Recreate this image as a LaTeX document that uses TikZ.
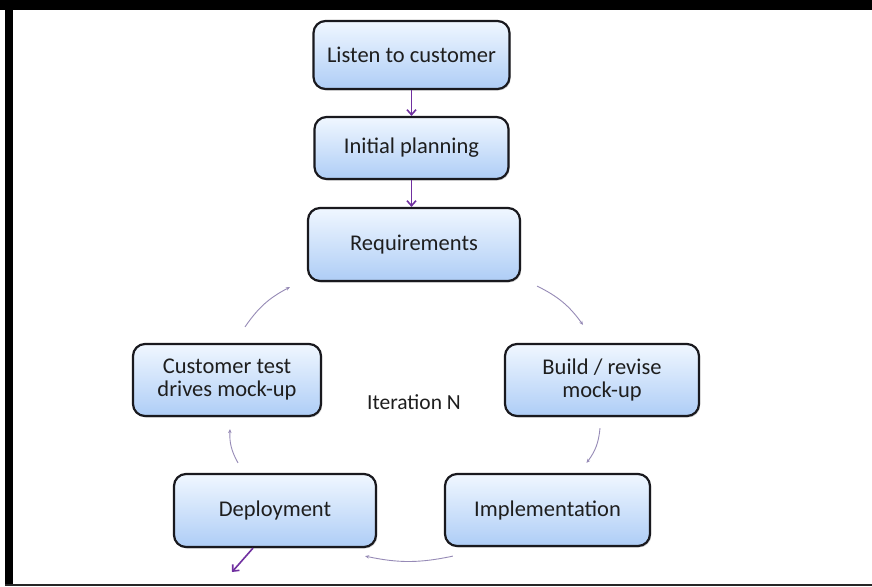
\documentclass[tikz,border=0pt]{standalone}
\usepackage{fontspec}
\setmainfont{Carlito}
\usetikzlibrary{arrows.meta,shadows,calc}
\definecolor{boxtop}{RGB}{240,247,255}
\definecolor{boxmid}{RGB}{214,231,252}
\definecolor{boxbot}{RGB}{174,205,246}
\definecolor{boxline}{RGB}{25,25,30}
\definecolor{flowpurple}{RGB}{112,48,160}
\definecolor{cyclegray}{RGB}{150,138,182}
\definecolor{txt}{RGB}{30,30,30}
\tikzset{
  stepbox/.style={draw=boxline, line width=2.2pt, rounded corners=12pt,
    top color=boxtop, middle color=boxmid, bottom color=boxbot, text=txt,
    font=\fontsize{22.5}{23}\selectfont, align=center, inner sep=0pt,
    drop shadow={opacity=0.35, shadow xshift=1.2pt, shadow yshift=-1.5pt}},
  flow/.style={draw=flowpurple, line width=1.6pt, -{Straight Barb[length=5pt,width=9pt]}},
  cyc/.style={draw=cyclegray, line width=0.9pt, -{Stealth[length=4pt,width=3.5pt]}},
}
\begin{document}
\begin{tikzpicture}[x=1pt,y=1pt]
\useasboundingbox (0,0) rectangle (872,-586);
\fill[white] (0,0) rectangle (872,-586);
% frame
\fill[black] (0,0) rectangle (872,-10);
\fill[black] (5,0) rectangle (13,-586);
\fill[black!85] (5,-583.5) rectangle (872,-585.5);
% nodes
\node[stepbox, minimum width=196pt, minimum height=68pt] (listen) at (411.5,-55) {Listen to customer};
\node[stepbox, minimum width=194pt, minimum height=62pt] (plan) at (411.5,-148) {Initial planning};
\node[stepbox, minimum width=212pt, minimum height=73pt] (req) at (414,-244.5) {Requirements};
\node[stepbox, minimum width=194pt, minimum height=72pt] (build) at (602,-380) {Build / revise\\mock-up};
\node[stepbox, minimum width=205pt, minimum height=72pt] (impl) at (547.5,-510) {Implementation};
\node[stepbox, minimum width=202pt, minimum height=73pt] (dep) at (275,-510.5) {Deployment};
\node[stepbox, minimum width=188pt, minimum height=72pt] (cust) at (227,-380) {Customer test\\drives mock-up};
\node[text=txt, font=\fontsize{21.5}{23}\selectfont] (iter) at (414,-402) {Iteration N};
% straight flow arrows
\draw[flow] (listen.south) -- (plan.north);
\draw[flow] (plan.south) -- (plan.south |- req.north);
% exit arrow
\coordinate (exitend) at (232,-572);
\draw[flow] ([xshift=-22pt]dep.south) -- (exitend);
% cycle arrows
\draw[cyc] ([shift={(16pt,-4pt)}]req.south east) to[bend left=14] ([shift={(-19pt,18pt)}]build.north);
\draw[cyc] ([shift={(-2pt,-11pt)}]build.south) to[bend left=16] ([shift={(39pt,10pt)}]impl.north);
\draw[cyc] ([shift={(9pt,-9pt)}]impl.south west) to[bend left=12] ([shift={(-12pt,-8pt)}]dep.south east);
\draw[cyc] ([shift={(-37pt,10pt)}]dep.north) to[bend left=16] ([shift={(3pt,-12pt)}]cust.south);
\draw[cyc] ([shift={(18pt,16pt)}]cust.north) to[bend left=14] ([shift={(-17pt,-5pt)}]req.south west);
\end{tikzpicture}
\end{document}
